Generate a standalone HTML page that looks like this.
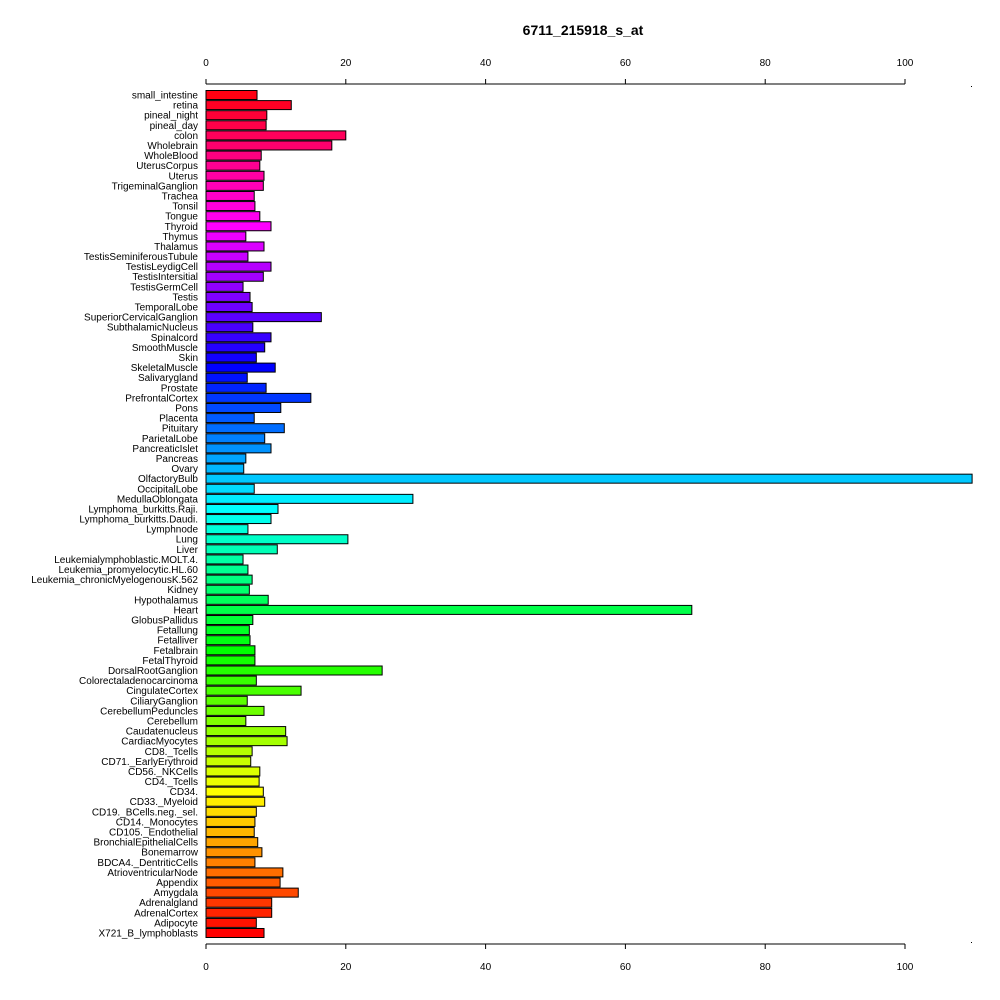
<!DOCTYPE html>
<html><head><meta charset="utf-8"><style>
body{margin:0;background:#fff;}
svg{display:block;font-family:"Liberation Sans",Arial,sans-serif;}
</style></head><body>
<svg id="chart" width="1000" height="1000" viewBox="0 0 1000 1000">
<rect width="1000" height="1000" fill="#fff"/>
<text x="583" y="35" text-anchor="middle" font-size="14" font-weight="bold">6711_215918_s_at</text>
<g id="axes"></g><g id="bars"></g><g id="labels"></g>
</svg>
<script>
const categories=["small_intestine","retina","pineal_night","pineal_day","colon","Wholebrain","WholeBlood","UterusCorpus","Uterus","TrigeminalGanglion","Trachea","Tonsil","Tongue","Thyroid","Thymus","Thalamus","TestisSeminiferousTubule","TestisLeydigCell","TestisIntersitial","TestisGermCell","Testis","TemporalLobe","SuperiorCervicalGanglion","SubthalamicNucleus","Spinalcord","SmoothMuscle","Skin","SkeletalMuscle","Salivarygland","Prostate","PrefrontalCortex","Pons","Placenta","Pituitary","ParietalLobe","PancreaticIslet","Pancreas","Ovary","OlfactoryBulb","OccipitalLobe","MedullaOblongata","Lymphoma_burkitts.Raji.","Lymphoma_burkitts.Daudi.","Lymphnode","Lung","Liver","Leukemialymphoblastic.MOLT.4.","Leukemia_promyelocytic.HL.60","Leukemia_chronicMyelogenousK.562","Kidney","Hypothalamus","Heart","GlobusPallidus","Fetallung","Fetalliver","Fetalbrain","FetalThyroid","DorsalRootGanglion","Colorectaladenocarcinoma","CingulateCortex","CiliaryGanglion","CerebellumPeduncles","Cerebellum","Caudatenucleus","CardiacMyocytes","CD8._Tcells","CD71._EarlyErythroid","CD56._NKCells","CD4._Tcells","CD34.","CD33._Myeloid","CD19._BCells.neg._sel.","CD14._Monocytes","CD105._Endothelial","BronchialEpithelialCells","Bonemarrow","BDCA4._DentriticCells","AtrioventricularNode","Appendix","Amygdala","Adrenalgland","AdrenalCortex","Adipocyte","X721_B_lymphoblasts"];
const values=[7.3,12.2,8.7,8.6,20,18,7.9,7.7,8.3,8.2,6.9,7,7.7,9.3,5.7,8.3,6,9.3,8.2,5.3,6.3,6.6,16.5,6.7,9.3,8.4,7.2,9.9,5.9,8.6,15,10.7,6.9,11.2,8.4,9.3,5.7,5.4,109.6,6.9,29.6,10.3,9.3,6,20.3,10.2,5.3,6,6.6,6.2,8.9,69.5,6.7,6.2,6.3,7,7,25.2,7.2,13.6,5.9,8.3,5.7,11.4,11.6,6.6,6.4,7.7,7.6,8.2,8.4,7.2,7,6.9,7.4,8,7,11,10.6,13.2,9.4,9.4,7.2,8.3];
const tickValues=[0,20,40,60,80,100];
const tickLabels=["0","20","40","60","80","100"];

const NS="http://www.w3.org/2000/svg";
const x0=206, pxPer=6.99, yTop=95, step=(933-95)/83, barH=9;
const xScale=v=>x0+v*pxPer;
const yScale=i=>yTop+i*step;
function mk(tag,attrs,parent){const e=document.createElementNS(NS,tag);for(const k in attrs)e.setAttribute(k,attrs[k]);parent.appendChild(e);return e;}
const axes=document.getElementById('axes'),bars=document.getElementById('bars'),labels=document.getElementById('labels');
const n=categories.length;
categories.forEach((c,i)=>{
  const hue=((n-1-i)/n)*360;
  const r=mk('rect',{x:xScale(0),y:yScale(i)-barH/2,width:Math.max(0,xScale(values[i])-xScale(0)),height:barH,fill:`hsl(${hue},100%,50%)`,stroke:'#000','stroke-width':1},bars);
  
  
  const t=mk('text',{x:198,y:yScale(i)+3.5,'text-anchor':'end','font-size':10},labels);
  t.textContent=c;
  
  
});
[[84,-1,66],[944,1,970]].forEach(([ay,dir,ly],k)=>{
  const l=mk('line',{x1:xScale(0),x2:xScale(100),y1:ay,y2:ay,stroke:'#000'},axes);
  
  
  tickValues.forEach((v,j)=>{
    const tk=mk('line',{x1:xScale(v),x2:xScale(v),y1:ay,y2:ay+dir*5,stroke:'#000'},axes);
    
    
    const tl=mk('text',{x:xScale(v),y:ly,'text-anchor':'middle','font-size':10},axes);
    tl.textContent=tickLabels[j];
    
    
  });
  const d=mk('rect',{x:971,y:ay+(k?-2:2),width:1,height:1,fill:'#000'},axes);
  
  
});
</script>
</body></html>
